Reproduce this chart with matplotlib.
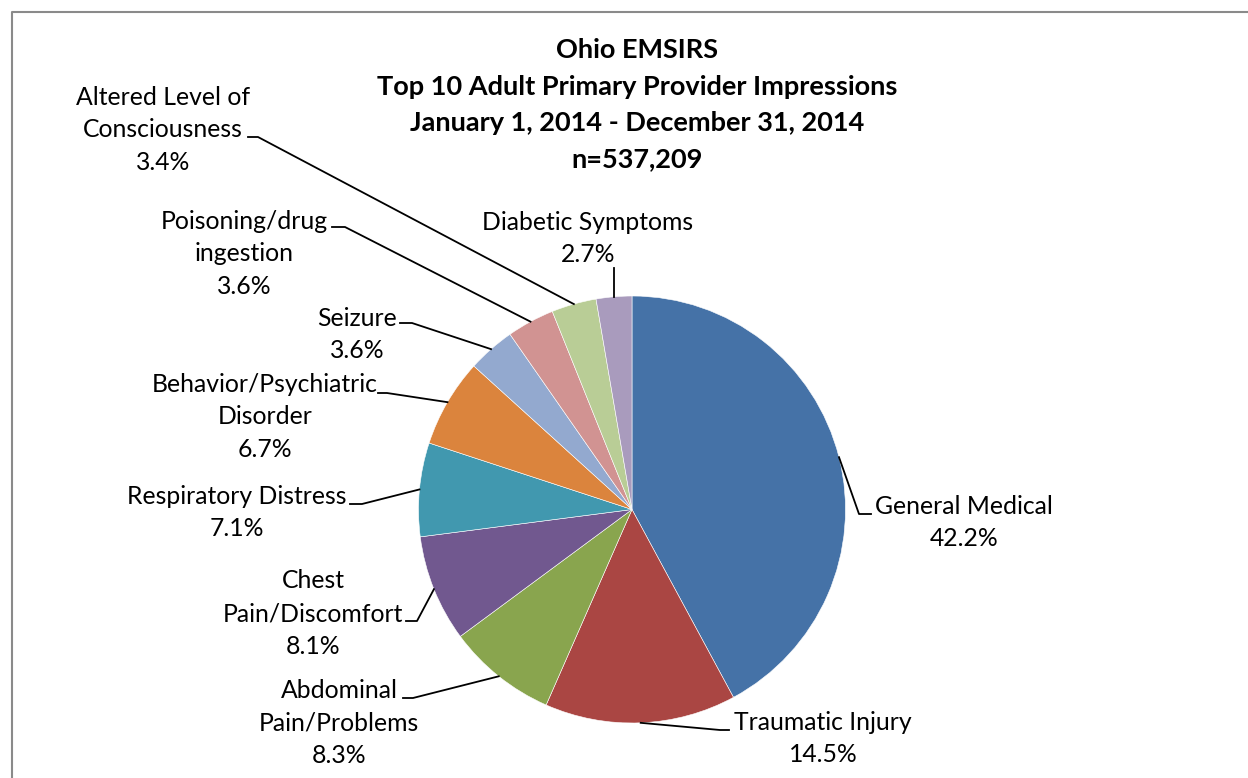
import matplotlib
matplotlib.use('Agg')

import matplotlib.pyplot as plt
import numpy as np

plt.rcParams['font.family'] = ['Lato', 'DejaVu Sans']

# Данные диаграммы (по часовой стрелке от 12 часов)
categories = ['General Medical', 'Traumatic Injury', 'Abdominal\nPain/Problems',
              'Chest\nPain/Discomfort', 'Respiratory Distress',
              'Behavior/Psychiatric\nDisorder', 'Seizure', 'Poisoning/drug\ningestion',
              'Altered Level of\nConsciousness', 'Diabetic Symptoms']
percents = [42.2, 14.5, 8.3, 8.1, 7.1, 6.7, 3.6, 3.6, 3.4, 2.7]
colors = ['#4572A7', '#AA4643', '#89A54E', '#71588F', '#4198AF',
          '#DB843D', '#93A9CF', '#D19392', '#B9CD96', '#A99BBD']

title_lines = ['Ohio EMSIRS', 'Top 10 Adult Primary Provider Impressions',
               'January 1, 2014 - December 31, 2014', 'n=537,209']

W, H = 1248, 778
fig = plt.figure(figsize=(W / 100, H / 100), dpi=100)
ax = fig.add_axes([0, 0, 1, 1])

cx, cy, r = 632, 509.5, 213.5
wedges, _ = ax.pie(percents, colors=colors, startangle=-90, counterclock=True,
                   center=(cx, cy), radius=r,
                   wedgeprops=dict(edgecolor='white', linewidth=0.4))
ax.set_xlim(0, W)
ax.set_ylim(H, 0)
ax.set_aspect('equal')
ax.axis('off')

# рамка
ax.plot([11.5, 11.5, W], [H, 11.5, 11.5], color='#8a8a8a', lw=1.5, clip_on=False)

# заголовок
for i, line in enumerate(title_lines):
    ax.text(637, 50 + i * 36.5, line, ha='center', va='center',
            fontsize=19.5, fontweight='bold', color='black')

# подписи: центр текста x, y первой строки, излом линии, конец горизонтали
layout = [
    (964, 506, (859, 514), (871, 514)),
    (823, 722, (720, 730), (729, 730)),
    (339, 690, (413, 698), (403, 698)),
    (313, 581, (417, 621), (406, 621)),
    (237, 496, (362, 504), (350, 504)),
    (265, 384, (387, 393), (378, 393)),
    (357, 318, (412, 323), (400, 323)),
    (244, 221, (345, 227), (332, 227)),
    (163, 97, (258, 137), (248, 137)),
    (588, 222, None, (614, 268)),
]

line_h = 32.7
for w, name, pct, (tx, ty, elbow, end) in zip(wedges, categories, percents, layout):
    lines = name.split('\n') + [f'{pct:.1f}%']
    for j, s in enumerate(lines):
        ax.text(tx, ty + j * line_h, s, ha='center', va='center',
                fontsize=17.8, color='black')
    mid = np.deg2rad((w.theta1 + w.theta2) / 2)
    px, py = cx + r * np.cos(mid), cy + r * np.sin(mid)
    if elbow is None:
        xs, ys = [px, px], [py, end[1]]
    else:
        xs, ys = [px, elbow[0], end[0]], [py, elbow[1], end[1]]
    ax.plot(xs, ys, color='black', lw=1.3)

plt.savefig('out.png', dpi=100)
